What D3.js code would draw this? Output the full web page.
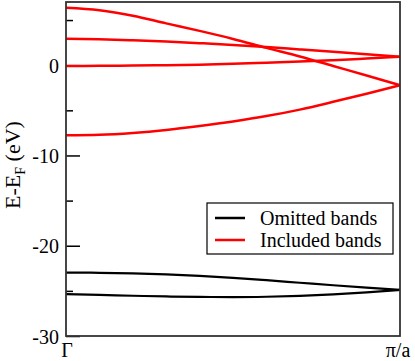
<!DOCTYPE html>
<meta charset="utf-8">
<style type="text/css">
body { margin: 0; background: #fff; }
svg text { font-family: "Liberation Serif", Times, "Times New Roman", "DejaVu Serif", serif !important; }
.band { fill: none; }
</style>
<svg width="415" height="361"></svg>
<script src="https://d3js.org/d3.v7.min.js"></script>
<script>

// k along Gamma -> pi/a, as a fraction of the zone
var kPoints = [0, 0.1, 0.2, 0.3, 0.4, 0.5, 0.6, 0.7, 0.8, 0.9, 1.0];

// bands kept in the model (red)
var included1 = [6.37, 6.09, 5.48, 4.63, 3.80, 2.91, 1.92, 0.97, -0.09, -1.14, -2.22];
var included2 = [2.93, 2.87, 2.76, 2.62, 2.44, 2.25, 2.02, 1.75, 1.48, 1.20, 0.93];
var included3 = [-0.08, -0.07, -0.04, 0.0, 0.06, 0.15, 0.27, 0.40, 0.56, 0.74, 0.93];
var included4 = [-7.77, -7.71, -7.50, -7.17, -6.73, -6.23, -5.64, -4.92, -4.06, -3.16, -2.22];

// deep bands left out (black)
var omitted1 = [-22.97, -23.0, -23.06, -23.17, -23.34, -23.56, -23.82, -24.10, -24.38, -24.64, -24.89];
var omitted2 = [-25.37, -25.45, -25.54, -25.62, -25.67, -25.69, -25.65, -25.55, -25.39, -25.17, -24.89];

var majorTicks = [0, -10, -20, -30];
var minorTicks = [5, -5, -15, -25];
var xTickLabels = ["Γ", "π/a"];
var legendLabels = ["Omitted bands", "Included bands"];
var legendColors = ["#000", "#f00"];

var svg = d3.select("svg");

var x = d3.scaleLinear().domain([0, 1]).range([66, 400]);
var y = d3.scaleLinear().domain([-30, 7]).range([336, 2]);

var line = d3.line()
		.x(function(d, i) { return x(kPoints[i]); })
		.y(function(d) { return y(d); })
		.curve(d3.curveMonotoneX);

var bands = [
	{ values: omitted1, color: "#000", width: 2.2 },
	{ values: omitted2, color: "#000", width: 2.2 },
	{ values: included4, color: "#f00", width: 2.5 },
	{ values: included3, color: "#f00", width: 2.5 },
	{ values: included2, color: "#f00", width: 2.5 },
	{ values: included1, color: "#f00", width: 2.5 }
];

// ticks go inward
svg.append("g")
		.attr("transform", "translate(" + x(0) + ",0)")
		.call(d3.axisLeft(y).tickValues(minorTicks).tickSize(-7).tickFormat(""))
		.call(function(g) { g.select(".domain").remove(); })
		.selectAll("line").attr("stroke", "#000").attr("stroke-width", 1.5);

var yAxis = svg.append("g")
		.attr("transform", "translate(" + x(0) + ",0)")
		.attr("font-family", null)
		.call(d3.axisLeft(y).tickValues(majorTicks).tickSizeInner(-14).tickSizeOuter(0).tickPadding(7)
			.tickFormat(function(d) { return d < 0 ? "-" + (-d) : d; }))
		.call(function(g) { g.select(".domain").remove(); });

yAxis.attr("font-family", null).attr("font-size", null);
yAxis.selectAll("line").attr("stroke", "#000").attr("stroke-width", 1.5);
yAxis.selectAll("text")
		.style("font-size", "20px")
		.attr("fill", "#000")
		.attr("dy", "0.36em");

svg.append("g").selectAll("path")
		.data(bands)
		.enter().append("path")
			.attr("class", "band")
			.attr("d", function(d) { return line(d.values); })
			.attr("stroke", function(d) { return d.color; })
			.attr("stroke-width", function(d) { return d.width; });

// frame
svg.append("rect")
		.attr("x", x(0))
		.attr("y", y(7))
		.attr("width", x(1) - x(0))
		.attr("height", y(-30) - y(7))
		.attr("fill", "none")
		.attr("stroke", "#333")
		.attr("stroke-width", 1.8);

svg.append("g").selectAll("text")
		.data(xTickLabels)
		.enter().append("text")
			.attr("x", function(d, i) { return x(i) + (i ? -2 : 1); })
			.attr("y", 357)
			.attr("text-anchor", "middle")
			.style("font-size", "20px")
			.text(function(d) { return d; });

// y label with subscript F
var ylab = svg.append("text")
		.attr("transform", "translate(20,165) rotate(-90)")
		.attr("text-anchor", "middle")
		.style("font-size", "22px");
ylab.append("tspan").text("E-E");
ylab.append("tspan").style("font-size", "14px").attr("dy", 5).text("F");
ylab.append("tspan").attr("dy", -5).text(" (eV)");

// legend
var legend = svg.append("g");
legend.append("rect")
		.attr("x", 207)
		.attr("y", 203)
		.attr("width", 186)
		.attr("height", 51)
		.attr("fill", "#fff")
		.attr("stroke", "#000")
		.attr("stroke-width", 1.2);

var item = legend.selectAll("g.item")
		.data(legendLabels)
		.enter().append("g")
		.attr("class", "item")
		.attr("transform", function(d, i) { return "translate(0," + (218 + i * 22) + ")"; });

item.append("line")
		.attr("x1", 215)
		.attr("x2", 245)
		.attr("stroke", function(d, i) { return legendColors[i]; })
		.attr("stroke-width", 2.5);

item.append("text")
		.attr("x", 260)
		.attr("y", 7)
		.style("font-size", "20px")
		.text(function(d) { return d; });

</script>
